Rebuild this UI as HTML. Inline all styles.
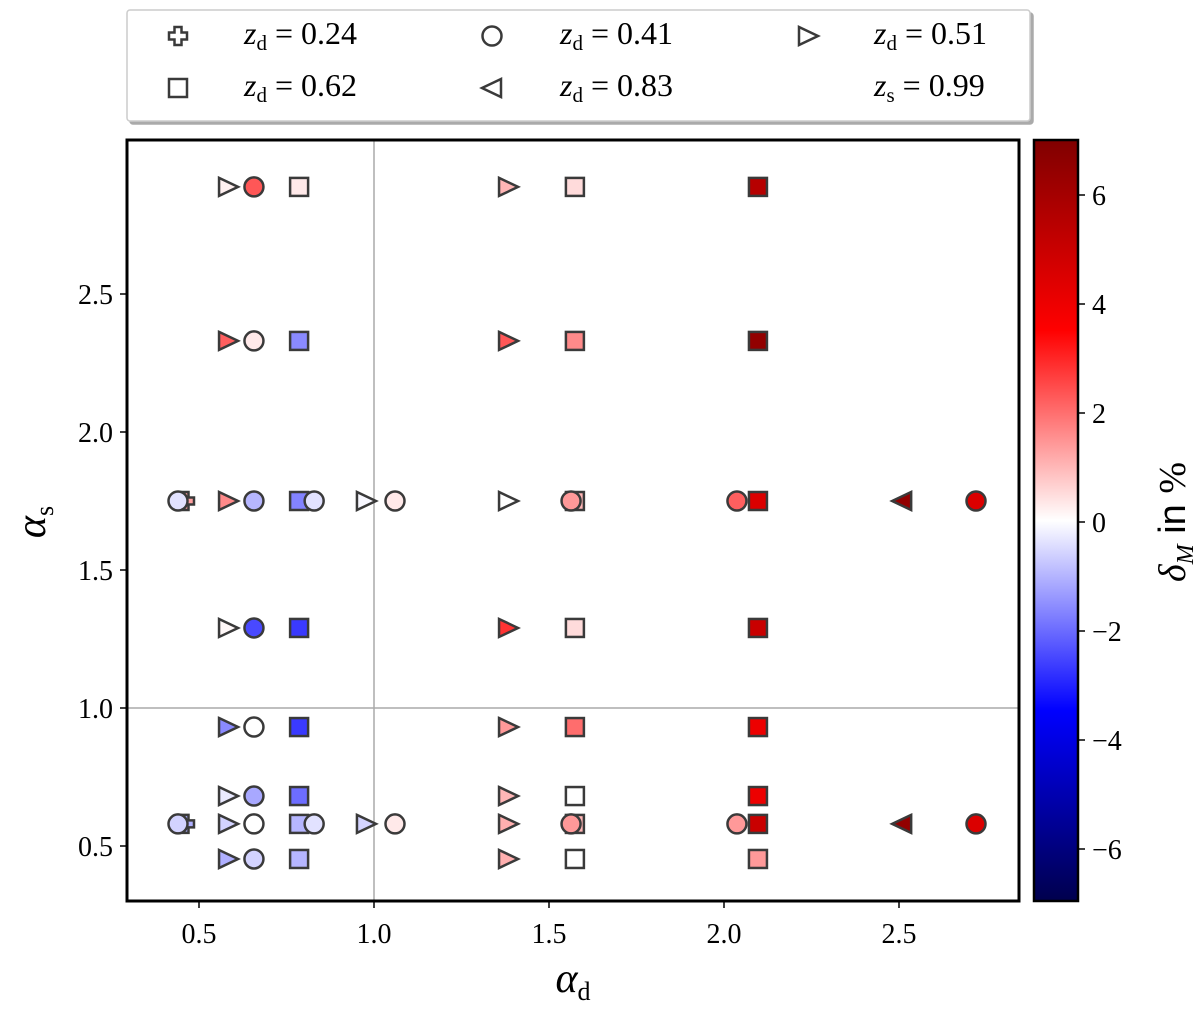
<!DOCTYPE html>
<html><head><meta charset="utf-8"><style>
body{margin:0;background:#fff}
svg text{font-family:"Liberation Serif",serif;fill:#000}
</style></head><body>
<svg id="s" width="1200" height="1010" xmlns="http://www.w3.org/2000/svg">
<defs>
<linearGradient id="cb" x1="0" y1="1" x2="0" y2="0">
<stop offset="0" stop-color="rgb(0,0,77)"/><stop offset="0.25" stop-color="rgb(0,0,255)"/>
<stop offset="0.5" stop-color="#fff"/><stop offset="0.75" stop-color="rgb(255,0,0)"/><stop offset="1" stop-color="rgb(128,0,0)"/>
</linearGradient>
<filter id="sh"><feDropShadow dx="3" dy="3" stdDeviation="0" flood-color="#aaa"/></filter>
</defs>
<g>
<rect x="127" y="10" width="903" height="111" fill="#fff" stroke="#ccc" stroke-width="1.5" rx="3" filter="url(#sh)"/>
<g id="leg"></g>
</g>
<g id="plot"></g>
</svg>
<script>
const markerType=["tri","circle","square","tri","square","square",
"tri","circle","square","tri","square","square",
"circle","plus","tri","circle","square","circle","tri","circle","tri","circle","square","circle","square","ltri","circle",
"tri","circle","square","tri","square","square",
"tri","circle","square","tri","square","square",
"tri","circle","square","tri","square","square",
"circle","plus","tri","circle","square","circle","tri","circle","tri","circle","square","circle","square","ltri","circle",
"tri","circle","square","tri","square","square"];
const alphaD=[0.583,0.657,0.786,1.383,1.574,2.097,
0.583,0.657,0.786,1.383,1.574,2.097,
0.44,0.46,0.583,0.657,0.786,0.829,0.977,1.06,1.383,1.563,1.574,2.037,2.097,2.509,2.72,
0.583,0.657,0.786,1.383,1.574,2.097,
0.583,0.657,0.786,1.383,1.574,2.097,
0.583,0.657,0.786,1.383,1.574,2.097,
0.44,0.46,0.583,0.657,0.786,0.829,0.977,1.06,1.383,1.563,1.574,2.037,2.097,2.509,2.72,
0.583,0.657,0.786,1.383,1.574,2.097];
const alphaS=[2.888,2.888,2.888,2.888,2.888,2.888,
2.33,2.33,2.33,2.33,2.33,2.33,
1.75,1.75,1.75,1.75,1.75,1.75,1.75,1.75,1.75,1.75,1.75,1.75,1.75,1.75,1.75,
1.29,1.29,1.29,1.29,1.29,1.29,
0.931,0.931,0.931,0.931,0.931,0.931,
0.681,0.681,0.681,0.681,0.681,0.681,
0.58,0.58,0.58,0.58,0.58,0.58,0.58,0.58,0.58,0.58,0.58,0.58,0.58,0.58,0.58,
0.453,0.453,0.453,0.453,0.453,0.453];
const delta=[0.2,2.3,0.3,1.0,0.5,5.5,
2.2,0.3,-1.6,2.3,1.6,6.5,
-0.4,1.3,1.6,-1.0,-1.7,-0.4,-0.1,0.3,0,1.4,1.0,2.2,4.5,6.5,4.5,
0.1,-2.5,-2.7,2.8,0.5,5.0,
-1.6,0,-2.7,1.4,2.0,4.0,
-0.3,-1.2,-2.0,1.0,0,4.0,
-0.6,-1.1,-0.6,0,-1.0,-0.4,-0.6,0.3,1.1,1.4,1.0,1.4,5.0,6.5,4.5,
-1.1,-0.6,-1.0,1.1,0,1.4];
const xTicks=[0.5,1.0,1.5,2.0,2.5];
const yTicks=[0.5,1.0,1.5,2.0,2.5];
const cTicks=[-6,-4,-2,0,2,4,6];
const legendLabels=["z_d = 0.24","z_d = 0.41","z_d = 0.51","z_d = 0.62","z_d = 0.83","z_s = 0.99"];
const legendMarkers=["plus","circle","tri","square","ltri",""];

const NS="http://www.w3.org/2000/svg";
const X=v=>199+(v-0.5)*350, Y=v=>846-(v-0.5)*276, C=v=>522-v*54.5;
function cmap(v){let t=Math.max(0,Math.min(1,(v+7)/14));
 const st=[[0,0,0,77],[0.25,0,0,255],[0.5,255,255,255],[0.75,255,0,0],[1,128,0,0]];
 for(let i=0;i<4;i++){const a=st[i],b=st[i+1];if(t<=b[0]){const f=(t-a[0])/(b[0]-a[0]);
 return `rgb(${Math.round(a[1]+f*(b[1]-a[1]))},${Math.round(a[2]+f*(b[2]-a[2]))},${Math.round(a[3]+f*(b[3]-a[3]))})`;}}}
function mk(tag,attrs,parent){const e=document.createElementNS(NS,tag);for(const k in attrs)e.setAttribute(k,attrs[k]);parent.appendChild(e);return e;}
function marker(type,cx,cy,fill,parent){
 const st={fill:fill,stroke:"#3a3a3a","stroke-width":2.5};let e;
 if(type==="circle")e=mk("circle",Object.assign({cx:cx,cy:cy,r:9.5},st),parent);
 else if(type==="square")e=mk("rect",Object.assign({x:cx-9,y:cy-9,width:18,height:18},st),parent);
 else if(type==="tri")e=mk("polygon",Object.assign({points:`${cx-9},${cy-9} ${cx+10},${cy} ${cx-9},${cy+9}`},st),parent);
 else if(type==="ltri")e=mk("polygon",Object.assign({points:`${cx+9},${cy-9} ${cx-10},${cy} ${cx+9},${cy+9}`},st),parent);
 else {const a=3.5,b=9;e=mk("polygon",Object.assign({points:`${cx-a},${cy-b} ${cx+a},${cy-b} ${cx+a},${cy-a} ${cx+b},${cy-a} ${cx+b},${cy+a} ${cx+a},${cy+a} ${cx+a},${cy+b} ${cx-a},${cy+b} ${cx-a},${cy+a} ${cx-b},${cy+a} ${cx-b},${cy-a} ${cx-a},${cy-a}`},st),parent);}
 return e;}
const P=document.getElementById("plot");
const fr=mk("rect",{x:127,y:140,width:892,height:761,fill:"#fff",stroke:"none"},P);


let gl=mk("line",{x1:X(1),x2:X(1),y1:140,y2:901,stroke:"#aaa","stroke-width":1.5},P);


gl=mk("line",{x1:127,x2:1019,y1:Y(1),y2:Y(1),stroke:"#aaa","stroke-width":1.5},P);


const order=["plus","square","tri","ltri","circle"];
order.forEach(t=>{for(let i=0;i<markerType.length;i++){if(markerType[i]!==t)continue;
 const m=marker(t,X(alphaD[i]),Y(alphaS[i]),cmap(delta[i]),P);
 
 }});
const bd=mk("rect",{x:127,y:140,width:892,height:761,fill:"none",stroke:"#000","stroke-width":3},P);


xTicks.forEach(v=>{mk("line",{x1:X(v),x2:X(v),y1:901,y2:908,stroke:"#000","stroke-width":1.5},P);
 const t=mk("text",{x:X(v),y:943,"font-size":28,"text-anchor":"middle"},P);t.textContent=v.toFixed(1);
 
 });
yTicks.forEach(v=>{mk("line",{x1:120,x2:127,y1:Y(v),y2:Y(v),stroke:"#000","stroke-width":1.5},P);
 const t=mk("text",{x:113,y:Y(v)+10,"font-size":28,"text-anchor":"end"},P);t.textContent=v.toFixed(1);
 
 });
let xt=mk("text",{x:573,y:992,"font-size":42,"text-anchor":"middle","font-style":"italic"},P);
xt.innerHTML='α<tspan font-size="26" font-style="normal" dy="8">d</tspan>';


let yt=mk("text",{x:0,y:0,"font-size":42,"text-anchor":"middle","font-style":"italic",transform:"translate(45,522) rotate(-90)"},P);
yt.innerHTML='α<tspan font-size="26" font-style="normal" dy="8">s</tspan>';


const cb=mk("rect",{x:1034,y:140,width:44,height:761,fill:"url(#cb)",stroke:"#000","stroke-width":2.5},P);


cTicks.forEach(v=>{mk("line",{x1:1078,x2:1085,y1:C(v),y2:C(v),stroke:"#000","stroke-width":1.5},P);
 const t=mk("text",{x:1092,y:C(v)+10,"font-size":28},P);t.textContent=(v<0?"−":"")+Math.abs(v);
 
 });
let ct=mk("text",{x:0,y:0,"font-size":38,"text-anchor":"middle",transform:"translate(1185,522) rotate(-90)"},P);
ct.innerHTML='<tspan font-style="italic">δ</tspan><tspan font-size="24" font-style="italic" dy="8">M</tspan><tspan dy="-8" font-family="Liberation Sans"> in </tspan>%';


const L=document.getElementById("leg");
const lx=[178,492,808],lt=[244,560,874],ly=[36,88];
legendLabels.forEach((s,i)=>{const c=i%3,r=Math.floor(i/3);
 if(legendMarkers[i]){const m=marker(legendMarkers[i],lx[c],ly[r],"#fff",L);
 
 }
 const p=s.split(" = ");const t=mk("text",{x:lt[c],y:ly[r]+8,"font-size":32},L);
 t.innerHTML='<tspan font-style="italic">z</tspan><tspan font-size="21" dy="6">'+p[0].slice(2)+'</tspan><tspan dy="-6"> = '+p[1]+'</tspan>';
 
 });
</script>
</body></html>
